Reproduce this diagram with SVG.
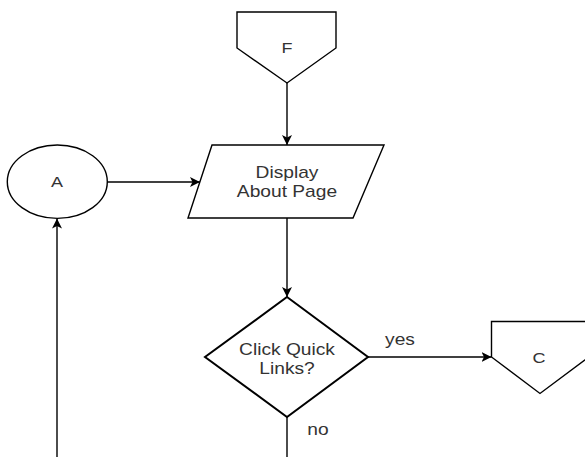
<svg xmlns="http://www.w3.org/2000/svg" width="585" height="457" viewBox="0 0 585 457">
<style>
.shape{fill:#fff;stroke:#000;stroke-width:1.4}
.thick{stroke-width:2}
.edge{fill:none;stroke:#000;stroke-width:1.4}
text{font-family:"Liberation Sans",Arial,sans-serif;font-size:16px;fill:#333;text-anchor:middle}
.big{font-size:15px}
</style>
<defs>
<marker id="arr" viewBox="0 0 10 10" refX="10" refY="5" markerWidth="10" markerHeight="10" markerUnits="userSpaceOnUse" orient="auto">
<path d="M0,0 L10,5 L0,10 L2.5,5 Z" fill="#000"/>
</marker>
</defs>
<rect width="585" height="457" fill="#fff"/>
<g id="connectors">
<path class="edge" d="M287,83 L287,145" marker-end="url(#arr)"/>
<path class="edge" d="M107,182 L200,182" marker-end="url(#arr)"/>
<path class="edge" d="M57,457 L57,218.5" marker-end="url(#arr)"/>
<path class="edge" d="M287,218 L287,297" marker-end="url(#arr)"/>
<path class="edge" d="M368,357 L491.5,357" marker-end="url(#arr)"/>
<path class="edge" d="M287,417 L287,457"/>
<text transform="translate(400,345) scale(1.2,1)">yes</text>
<text transform="translate(318,435) scale(1.2,1)">no</text>
</g>
<g id="nodeF">
<polygon class="shape" points="237,12 336,12 336,48 287,83 237,48"/>
<text class="big" transform="translate(287,53) scale(1.2,1)">F</text>
</g>
<g id="nodeDisplay">
<polygon class="shape" points="212,145 384,145 353,218 188,218"/>
<text transform="translate(287,178) scale(1.2,1)">Display</text>
<text transform="translate(287,196.5) scale(1.2,1)">About Page</text>
</g>
<g id="nodeA">
<ellipse class="shape" cx="57.3" cy="181.7" rx="50" ry="36.7"/>
<text class="big" transform="translate(57,187) scale(1.2,1)">A</text>
</g>
<g id="nodeDecision">
<polygon class="shape thick" points="287,297 368,357 287,417 205,357"/>
<text transform="translate(287,355) scale(1.2,1)">Click Quick</text>
<text transform="translate(287,374) scale(1.2,1)">Links?</text>
</g>
<g id="nodeC">
<polygon class="shape" points="491.5,321.5 589,321.5 589,357 540,393.5 491.5,357"/>
<text class="big" transform="translate(539,363) scale(1.2,1)">C</text>
</g>
</svg>
